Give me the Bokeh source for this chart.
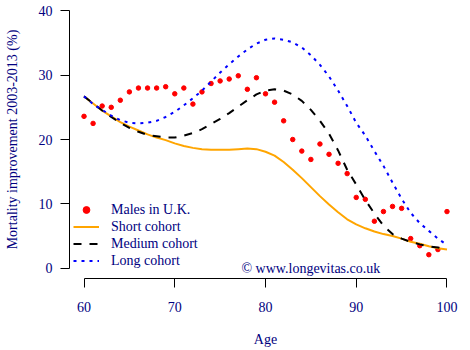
from bokeh.plotting import figure
from bokeh.models import Range1d, FixedTicker, Legend, LegendItem
from bokeh.core.properties import value
from bokeh.embed import file_html
from bokeh.resources import INLINE

ages = list(range(60, 101))

males_uk = [23.6, 22.5, 25.2, 25.0, 26.1, 27.4, 28.0, 28.0, 28.0, 28.2,
            27.1, 28.0, 25.5, 27.4, 28.7, 29.1, 29.4, 29.9, 27.8, 29.6,
            27.1, 25.8, 22.9, 20.0, 18.2, 16.9, 19.3, 17.7, 16.3, 14.7,
            11.0, 10.7, 7.3, 8.8, 9.6, 9.3, 4.6, 3.5, 2.1, 2.9, 8.8]

short_cohort = [26.7, 25.6, 24.5, 23.6, 22.7, 22.0, 21.4, 20.8, 20.3, 19.9,
                19.4, 19.0, 18.7, 18.5, 18.4, 18.4, 18.4, 18.5, 18.6, 18.5,
                18.1, 17.5, 16.5, 15.3, 14.0, 12.6, 11.2, 9.9, 8.7, 7.6,
                6.8, 6.2, 5.7, 5.3, 5.0, 4.6, 4.1, 3.8, 3.4, 3.1, 2.9]

medium_cohort = [26.7, 25.6, 24.5, 23.5, 22.6, 21.8, 21.2, 20.7, 20.5, 20.3,
                 20.3, 20.6, 21.0, 21.6, 22.4, 23.2, 24.1, 25.1, 26.1, 27.0,
                 27.6, 27.8, 27.6, 27.0, 26.0, 24.6, 22.9, 20.9, 18.3, 15.3,
                 13.0, 10.6, 8.5, 6.6, 5.3, 4.6, 4.1, 3.7, 3.4, 3.2, 3.0]

long_cohort = [26.7, 25.5, 24.6, 23.7, 23.0, 22.6, 22.5, 22.6, 22.9, 23.5,
               24.3, 25.3, 26.4, 27.6, 29.0, 30.4, 31.7, 32.9, 34.0, 34.9,
               35.5, 35.7, 35.5, 35.1, 34.3, 33.1, 31.6, 29.8, 27.6, 25.2,
               22.6, 20.6, 18.2, 15.9, 13.3, 10.8, 8.6, 7.0, 5.8, 4.6, 3.6]

x_ticks = [60, 70, 80, 90, 100]
y_ticks = [0, 10, 20, 30, 40]
series_labels = ["Males in U.K.", "Short cohort", "Medium cohort", "Long cohort"]
x_title = "Age"
y_title = "Mortality improvement 2003-2013 (%)"
copyright_text = "© www.longevitas.co.uk"
copyright_pos = (85, 0)

FONT = "Liberation Serif"
TXT = "navy"
FS = "14px"

p = figure(width=470, height=350, output_backend="svg", toolbar_location=None,
           x_range=Range1d(58.4, 101.6), y_range=Range1d(-1.6, 41.6),
           min_border_left=69, min_border_right=9, min_border_top=0,
           min_border_bottom=72)
p.outline_line_color = None
p.xgrid.visible = False
p.ygrid.visible = False
p.background_fill_color = "white"
p.border_fill_color = "white"

for ax, ticks, bounds in ((p.xaxis[0], x_ticks, (60, 100)), (p.yaxis[0], y_ticks, (0, 40))):
    ax.ticker = FixedTicker(ticks=ticks)
    ax.bounds = bounds
    ax.minor_tick_line_color = None
    ax.major_tick_in = 0
    ax.major_tick_out = 9
    ax.axis_line_color = "black"
    ax.major_tick_line_color = "black"
    ax.major_label_text_font = FONT
    ax.major_label_text_font_size = FS
    ax.major_label_text_color = TXT
    ax.axis_label_text_font = FONT
    ax.axis_label_text_font_size = FS
    ax.axis_label_text_color = TXT
    ax.axis_label_text_font_style = "normal"

p.xaxis[0].axis_label = x_title
p.yaxis[0].axis_label = y_title
p.xaxis[0].major_label_standoff = 14
p.xaxis[0].axis_label_standoff = 17
p.yaxis[0].major_label_standoff = 8
p.yaxis[0].axis_label_standoff = 16
p.yaxis[0].major_label_orientation = "horizontal"

r_pts = p.scatter(ages, males_uk, size=4.5, color="red", marker="circle")
r_short = p.line(ages, short_cohort, line_color="orange", line_width=2)
r_med = p.line(ages, medium_cohort, line_color="black", line_width=2, line_dash="8 8")
r_long = p.line(ages, long_cohort, line_color="blue", line_width=2, line_dash="3 5")

p.text(x=[copyright_pos[0]], y=[copyright_pos[1]], text=[copyright_text],
       text_font=value(FONT), text_font_size=FS, text_color=TXT,
       text_align="center", text_baseline="middle")

legend = Legend(items=[LegendItem(label=series_labels[0], renderers=[r_pts]),
                       LegendItem(label=series_labels[1], renderers=[r_short]),
                       LegendItem(label=series_labels[2], renderers=[r_med]),
                       LegendItem(label=series_labels[3], renderers=[r_long])],
                location=(4, 9), padding=0, margin=0, spacing=0,
                glyph_width=26, glyph_height=17, label_height=17,
                label_standoff=12, label_text_font=FONT,
                label_text_font_size=FS, label_text_color=TXT,
                border_line_alpha=0, background_fill_alpha=0)
p.add_layout(legend, "center")

open("out.html", "w").write(file_html(p, INLINE))
